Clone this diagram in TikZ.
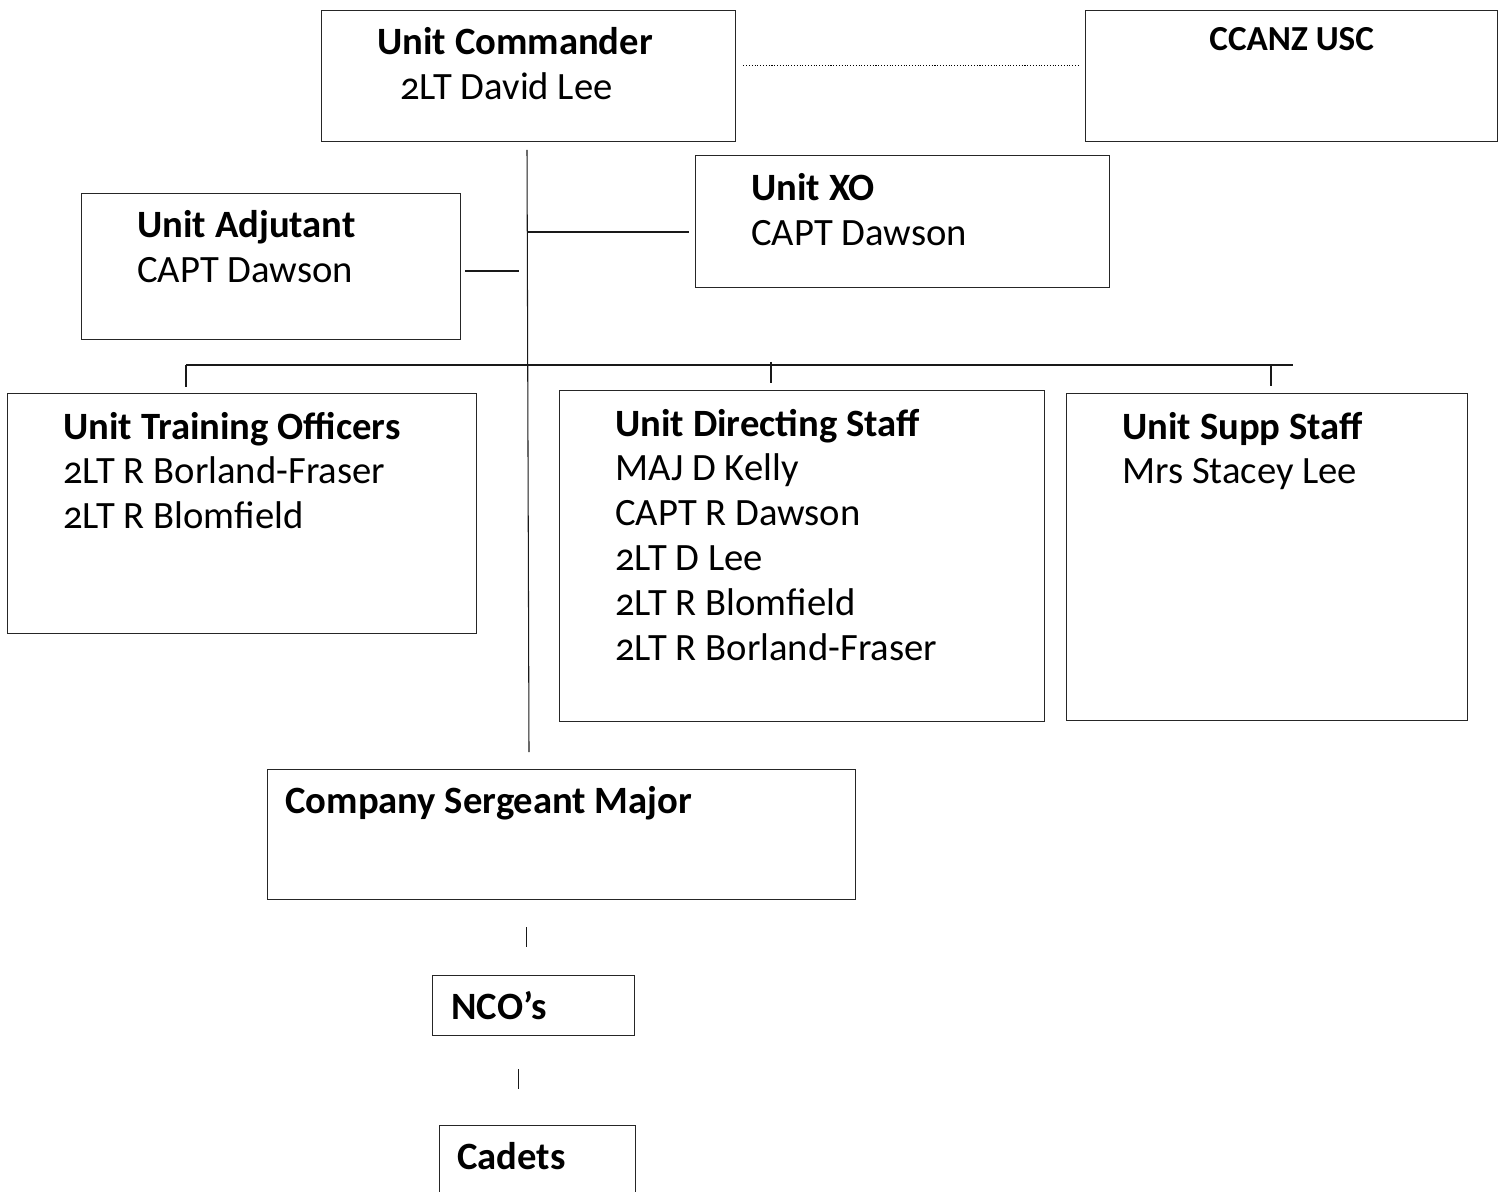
\documentclass[tikz,border=0pt]{standalone}
\usepackage{fontspec}
\setmainfont{Carlito}[Numbers=OldStyle]
\usetikzlibrary{calc}

\tikzset{
  box/.style={draw=black!85, line width=0.8pt, anchor=north west, inner sep=0pt},
  txt/.style={anchor=north west, inner sep=0pt, align=left,
              font={\fontsize{22}{25.5}\selectfont}, execute at begin node=\strut},
  link/.style={draw=black!90, line width=0.6pt}
}

\begin{document}
\begin{tikzpicture}[x=0.02cm,y=-0.02cm]
                \useasboundingbox (0,0) rectangle (1507,1192);

                \node[box, minimum width=8.28cm, minimum height=2.62cm] (cmd) at (321,10) {};
                \node[box, minimum width=8.24cm, minimum height=2.62cm] (usc) at (1085,10) {};
                \node[box, minimum width=8.28cm, minimum height=2.64cm] (xo) at (695,155) {};
                \node[box, minimum width=7.58cm, minimum height=2.92cm] (adj) at (81,193) {};
                \node[box, minimum width=9.38cm, minimum height=4.80cm] (uto) at (7,393) {};
                \node[box, minimum width=9.70cm, minimum height=6.62cm] (uds) at (559,390) {};
                \node[box, minimum width=8.02cm, minimum height=6.54cm] (uss) at (1066,393) {};
                \node[box, minimum width=11.76cm, minimum height=2.60cm] (csm) at (267,769) {};
                \node[box, minimum width=4.04cm, minimum height=1.20cm] (nco) at (432,975) {};
                \node[box, minimum width=3.92cm, minimum height=2.00cm] (cad) at (439,1125) {};

                \node[txt] (cmdtxt) at ($(cmd.north west)+(56,17.5)$) {\textbf{Unit Commander}\\\hspace*{0.46cm}2LT David Lee};
                \node[txt, anchor=north, font={\fontsize{20}{24}\selectfont\bfseries}] (usctxt) at ($(usc.north)+(0,11)$) {CCANZ USC};
                \node[txt] (xotxt) at ($(xo.north west)+(56,18.5)$) {\textbf{Unit XO}\\CAPT Dawson};
                \node[txt] (adjtxt) at ($(adj.north west)+(56,17.5)$) {\textbf{Unit Adjutant}\\CAPT Dawson};
                \node[txt] (utotxt) at ($(uto.north west)+(56,18.5)$) {\textbf{Unit Training Officers}\\2LT R Borland-Fraser\\2LT R Blomfield};
                \node[txt] (udstxt) at ($(uds.north west)+(56,18.5)$) {\textbf{Unit Directing Staff}\\MAJ D Kelly\\CAPT R Dawson\\2LT D Lee\\2LT R Blomfield\\2LT R Borland-Fraser};
                \node[txt] (usstxt) at ($(uss.north west)+(56,18.5)$) {\textbf{Unit Supp Staff}\\Mrs Stacey Lee};
                \node[txt] (csmtxt) at ($(csm.north west)+(18,12.5)$) {\textbf{Company Sergeant Major}};
                \node[txt] (ncotxt) at ($(nco.north west)+(19,12.5)$) {\textbf{NCO's}};
                \node[txt] (cadtxt) at ($(cad.north west)+(18,12.5)$) {\textbf{Cadets}};

                \coordinate (spinetop) at (527,150);
                \coordinate (spinebot) at (529,752);
                \coordinate (busl) at (186,365);
                \coordinate (busr) at (1293,365);

                \draw[link] (spinetop)--(spinebot);
                \draw[link] (527,232)--($(xo.north west)+(-6,77)$);
                \draw[link] ($(adj.north east)+(4,78)$)--(519,271);
                \draw[link] (busl)--(busr);
                \draw[link] (busl)--($(uto.north west)+(179,-6)$);
                \draw[link] (771,362)--($(uds.north west)+(212,-7)$);
                \draw[link] (1271,365)--($(uss.north west)+(205,-7)$);
                \draw[densely dotted, line width=0.6pt] ($(cmd.east)+(7,-10.5)$)--($(usc.west)+(-5,-10.5)$);
                \draw[link] ($(csm.south)+(-35,27)$)--($(csm.south)+(-35,47)$);
                \draw[link] ($(nco.south)+(-15,33)$)--($(nco.south)+(-15,53)$);
            \end{tikzpicture}
\end{document}
